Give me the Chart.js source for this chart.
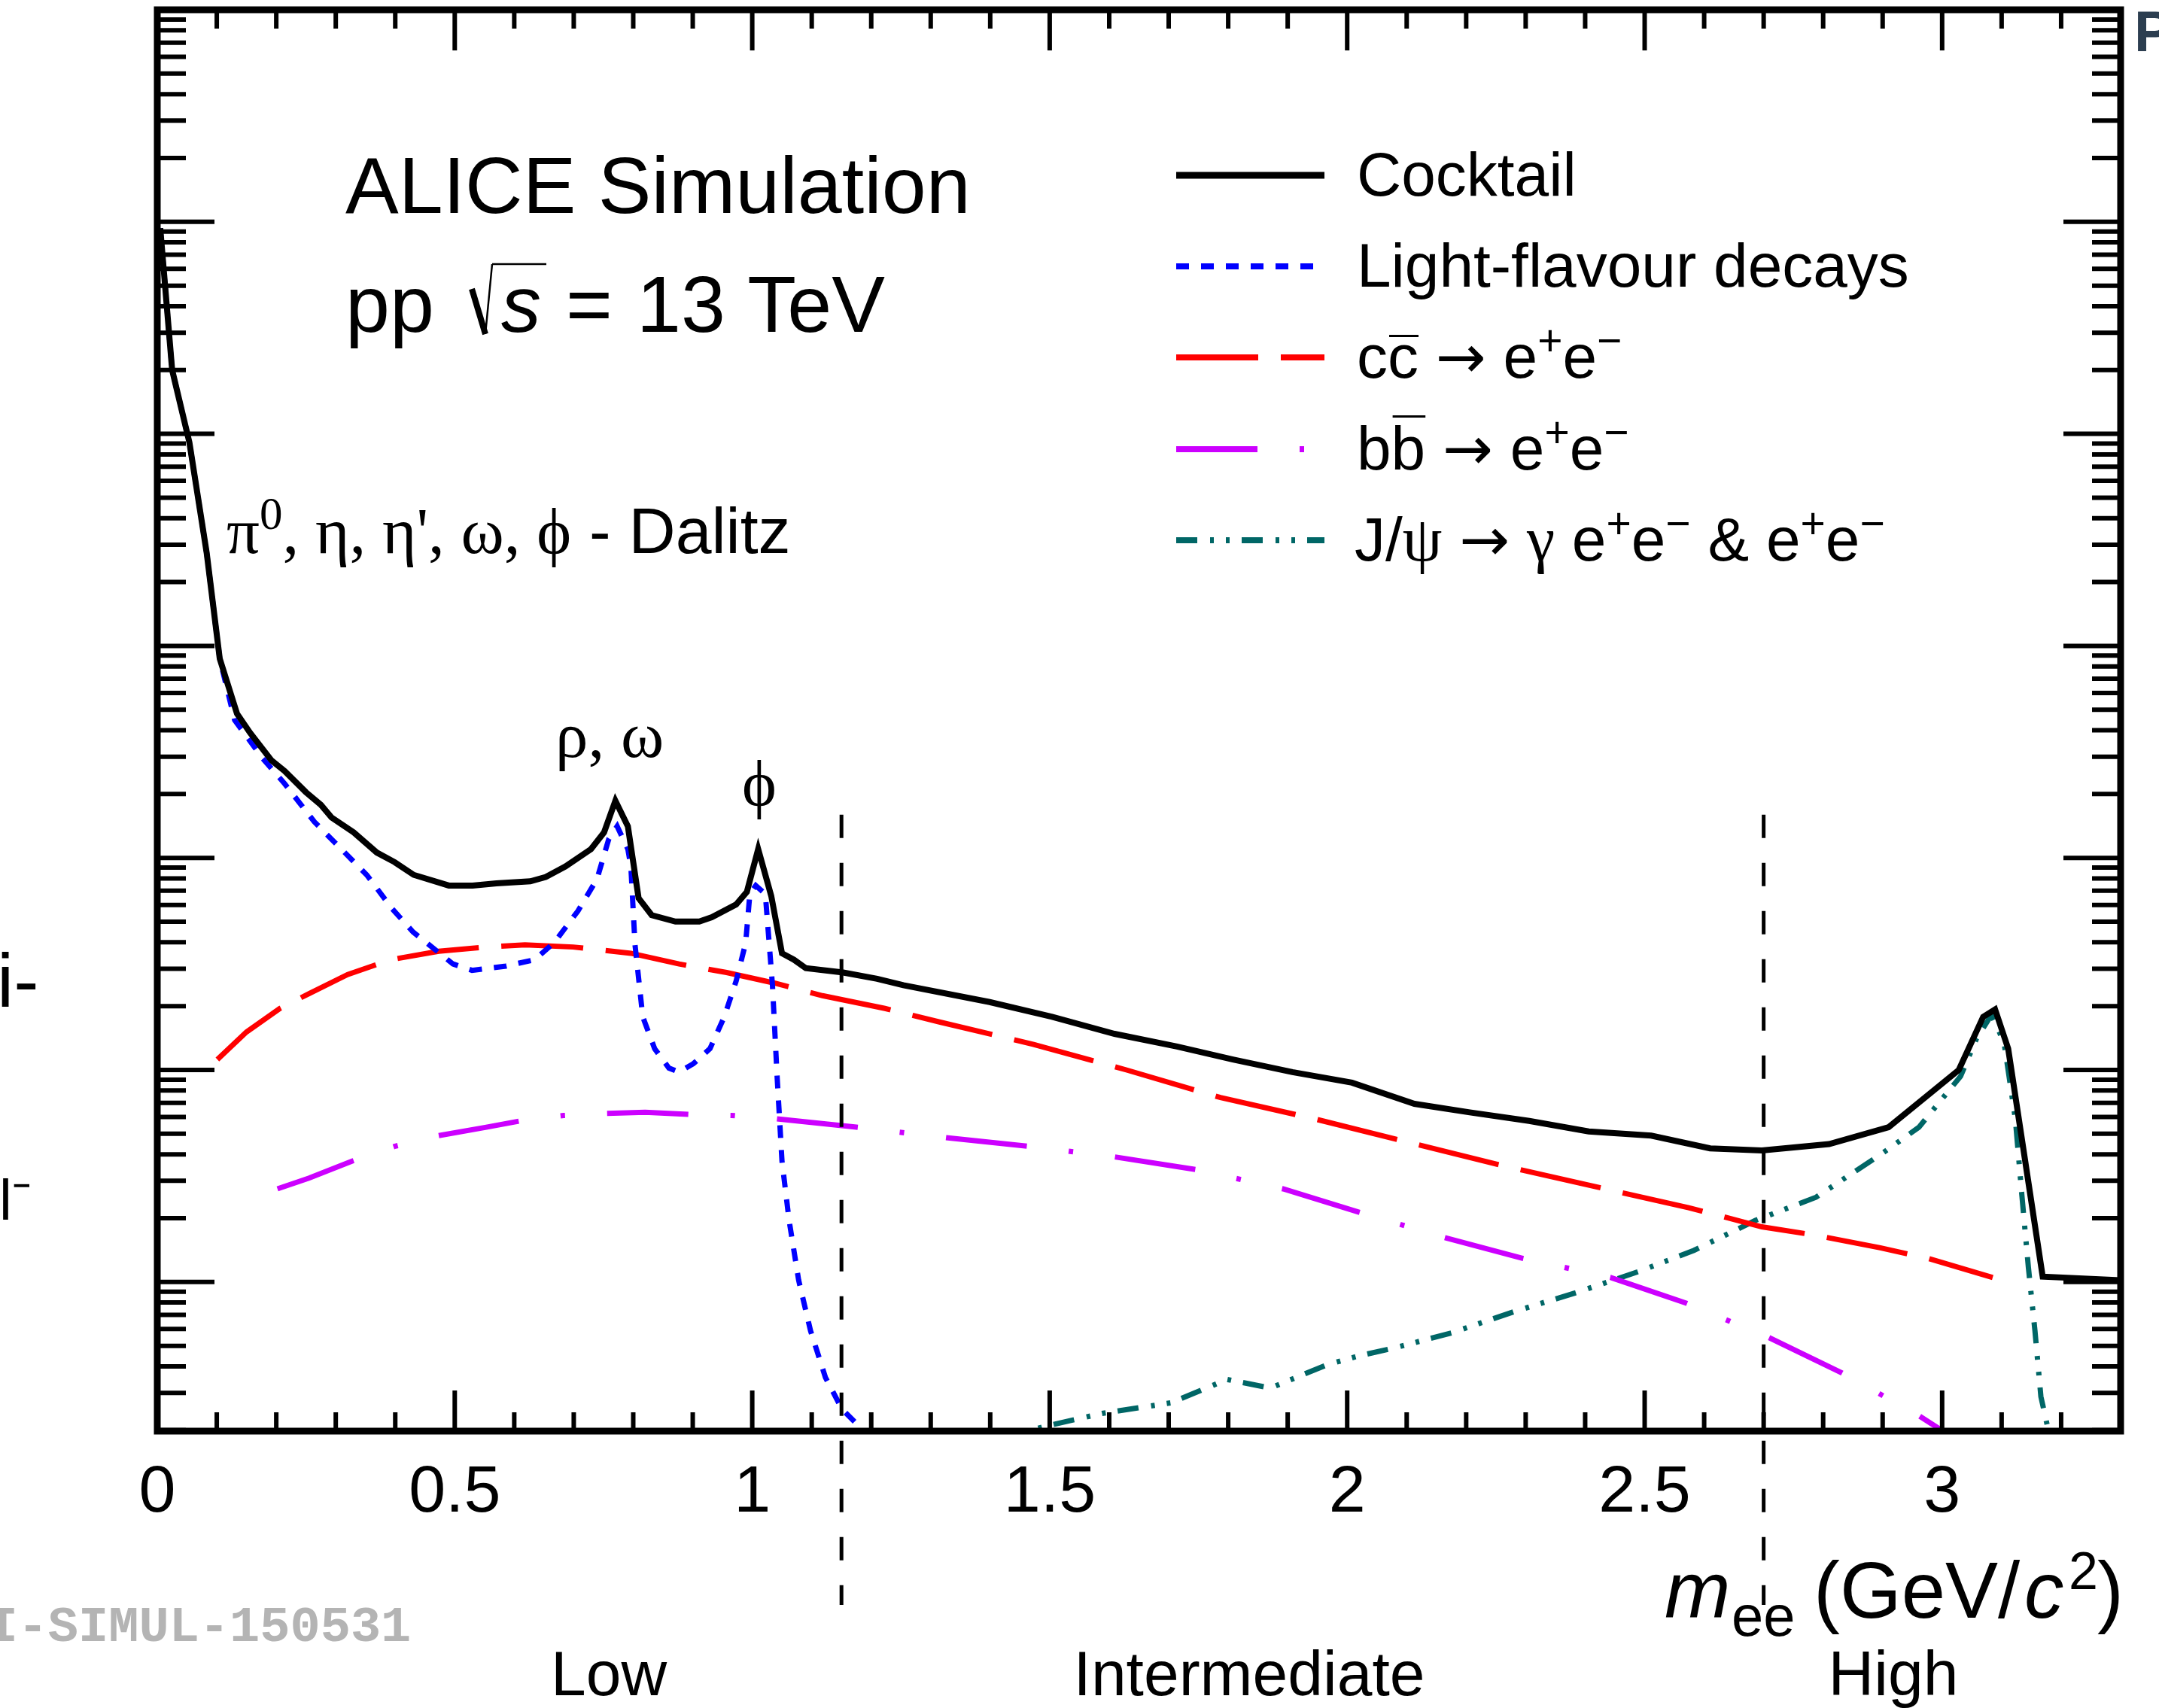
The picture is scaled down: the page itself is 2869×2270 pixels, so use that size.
<!DOCTYPE html>
<html>
<head>
<meta charset="utf-8">
<script src="https://cdn.jsdelivr.net/npm/chart.js@4.4.1/dist/chart.umd.min.js"></script>
<style>
  html, body { margin: 0; padding: 0; background: #fff; }
  canvas { display: block; }
</style>
</head>
<body>
<canvas id="cocktailChart" width="2869" height="2270"></canvas>
<script>
// invariant mass, GeV/c^2, and yield (arb. units)
const cocktailMass = [0.005, 0.025, 0.054, 0.083, 0.105, 0.134, 0.156, 0.192, 0.214, 0.25, 0.275, 0.293, 0.33, 0.369, 0.399, 0.431, 0.49, 0.53, 0.57, 0.627, 0.653, 0.686, 0.729, 0.751, 0.77, 0.791, 0.809, 0.831, 0.871, 0.911, 0.932, 0.973, 0.991, 1.01, 1.032, 1.05, 1.07, 1.09, 1.153, 1.21, 1.254, 1.399, 1.504, 1.609, 1.714, 1.808, 1.908, 2.008, 2.113, 2.206, 2.306, 2.406, 2.511, 2.61, 2.697, 2.81, 2.91, 3.028, 3.069, 3.089, 3.111, 3.169, 3.299];
const cocktailYield = [9.33e-2, 2.0e-2, 9.1e-3, 2.75e-3, 8.7e-4, 4.79e-4, 3.89e-4, 2.88e-4, 2.57e-4, 2.04e-4, 1.78e-4, 1.55e-4, 1.32e-4, 1.06e-4, 9.55e-5, 8.32e-5, 7.41e-5, 7.41e-5, 7.59e-5, 7.76e-5, 8.13e-5, 9.12e-5, 1.10e-4, 1.32e-4, 1.86e-4, 1.41e-4, 6.46e-5, 5.37e-5, 5.01e-5, 5.01e-5, 5.25e-5, 6.03e-5, 6.92e-5, 1.10e-4, 6.61e-5, 3.55e-5, 3.31e-5, 3.02e-5, 2.88e-5, 2.69e-5, 2.51e-5, 2.09e-5, 1.78e-5, 1.48e-5, 1.29e-5, 1.12e-5, 9.77e-6, 8.71e-6, 6.92e-6, 6.31e-6, 5.75e-6, 5.13e-6, 4.90e-6, 4.27e-6, 4.17e-6, 4.47e-6, 5.37e-6, 1.0e-5, 1.78e-5, 1.93e-5, 1.26e-5, 1.06e-6, 1.02e-6];

const lightMass = [0.005, 0.025, 0.054, 0.083, 0.105, 0.13, 0.177, 0.214, 0.264, 0.30, 0.352, 0.395, 0.43, 0.457, 0.497, 0.529, 0.586, 0.634, 0.667, 0.707, 0.739, 0.759, 0.773, 0.791, 0.796, 0.803, 0.816, 0.836, 0.86, 0.877, 0.901, 0.929, 0.953, 0.973, 0.989, 0.996, 1.006, 1.022, 1.034, 1.042, 1.05, 1.062, 1.078, 1.098, 1.123, 1.151, 1.183, 1.22];
const lightYield = [9.33e-2, 2.0e-2, 9.1e-3, 2.75e-3, 8.7e-4, 4.47e-4, 2.95e-4, 2.24e-4, 1.48e-4, 1.17e-4, 8.32e-5, 5.75e-5, 4.47e-5, 3.89e-5, 3.16e-5, 2.95e-5, 3.09e-5, 3.31e-5, 3.98e-5, 5.62e-5, 7.94e-5, 1.23e-4, 1.41e-4, 1.10e-4, 9.12e-5, 3.89e-5, 1.78e-5, 1.26e-5, 1.02e-5, 9.77e-6, 1.07e-5, 1.26e-5, 1.78e-5, 2.63e-5, 3.98e-5, 6.76e-5, 7.41e-5, 6.76e-5, 2.51e-5, 9.12e-6, 3.72e-6, 1.95e-6, 1.02e-6, 5.89e-7, 3.55e-7, 2.51e-7, 2.04e-7, 1.66e-7];

const charmMass = [0.101, 0.15, 0.206, 0.255, 0.32, 0.392, 0.473, 0.553, 0.618, 0.699, 0.796, 0.877, 0.957, 1.037, 1.118, 1.223, 1.316, 1.473, 1.629, 1.787, 1.944, 2.101, 2.259, 2.416, 2.574, 2.697, 2.788, 2.896, 2.977, 3.085];
const charmYield = [1.12e-5, 1.51e-5, 1.95e-5, 2.29e-5, 2.82e-5, 3.31e-5, 3.63e-5, 3.80e-5, 3.89e-5, 3.80e-5, 3.55e-5, 3.16e-5, 2.88e-5, 2.57e-5, 2.24e-5, 1.95e-5, 1.68e-5, 1.32e-5, 1.0e-5, 7.41e-6, 5.89e-6, 4.57e-6, 3.55e-6, 2.82e-6, 2.24e-6, 1.82e-6, 1.66e-6, 1.45e-6, 1.29e-6, 1.05e-6];

const beautyMass = [0.202, 0.255, 0.328, 0.40, 0.473, 0.553, 0.61, 0.683, 0.755, 0.82, 0.893, 0.965, 1.04, 1.175, 1.326, 1.462, 1.609, 1.746, 1.892, 2.018, 2.164, 2.296, 2.443, 2.57, 2.707, 2.832, 2.961, 2.994, 3.02];
const beautyYield = [2.75e-6, 3.09e-6, 3.72e-6, 4.37e-6, 4.90e-6, 5.37e-6, 5.75e-6, 6.10e-6, 6.24e-6, 6.31e-6, 6.17e-6, 6.10e-6, 5.89e-6, 5.37e-6, 4.79e-6, 4.37e-6, 3.89e-6, 3.39e-6, 2.75e-6, 2.14e-6, 1.62e-6, 1.29e-6, 1.05e-6, 7.94e-7, 5.50e-7, 3.72e-7, 2.34e-7, 2.04e-7, 1.74e-7];

const jpsiMass = [1.40, 1.494, 1.588, 1.703, 1.798, 1.871, 1.966, 2.018, 2.081, 2.175, 2.28, 2.385, 2.49, 2.583, 2.686, 2.788, 2.896, 2.961, 3.031, 3.058, 3.083, 3.104, 3.123, 3.134, 3.145, 3.156, 3.166, 3.177, 3.185];
const jpsiYield = [1.78e-7, 2.09e-7, 2.40e-7, 2.69e-7, 3.47e-7, 3.16e-7, 4.07e-7, 4.47e-7, 4.90e-7, 5.75e-7, 7.24e-7, 8.91e-7, 1.12e-6, 1.41e-6, 1.95e-6, 2.51e-6, 3.98e-6, 5.37e-6, 9.33e-6, 1.41e-5, 1.82e-5, 1.35e-5, 5.89e-6, 2.57e-6, 1.17e-6, 5.89e-7, 2.88e-7, 2.09e-7, 1.58e-7];

// axes
const xLabelTicks = [0, 0.5, 1, 1.5, 2, 2.5, 3];
const xMinorTicks = [0.1, 0.2, 0.3, 0.4, 0.6, 0.7, 0.8, 0.9, 1.1, 1.2, 1.3, 1.4, 1.6, 1.7, 1.8, 1.9, 2.1, 2.2, 2.3, 2.4, 2.6, 2.7, 2.8, 2.9, 3.1, 3.2];
const yDecades = [1e-7, 1e-6, 1e-5, 1e-4, 1e-3, 1e-2, 1e-1, 1];
const yMinorSteps = [2, 3, 4, 5, 6, 7, 8, 9];
const regionEdges = [1.15, 2.7]; // low | intermediate | high
const regionLineTop = 1.6e-4;
const regionLineBottom = 3e-8;

const SANS = '"Liberation Sans", Arial, Helvetica, sans-serif';
const SERIF = '"Liberation Serif", "Times New Roman", serif';
const ARROW = '"DejaVu Sans", sans-serif';

function points(xs, ys) {
    return xs.map(function(x, i){ return {x: x, y: ys[i]}; });
}

function series(label, xs, ys, color, width, dash) {
    return {
        label: label,
        data: points(xs, ys),
        borderColor: color,
        borderWidth: width,
        borderDash: dash,
        borderCapStyle: 'butt',
        pointRadius: 0,
        fill: false,
        tension: 0
    };
}

const datasets = [
    series('Cocktail', cocktailMass, cocktailYield, '#000000', 8, []),
    series('Light-flavour decays', lightMass, lightYield, '#0000ff', 7, [17, 16]),
    series('cc', charmMass, charmYield, '#ff0000', 7, [109, 30]),
    series('bb', beautyMass, beautyYield, '#cc00ff', 7, [108, 56, 6, 56]),
    series('J/psi', jpsiMass, jpsiYield, '#006666', 7, [28, 17, 5, 16, 5, 16])
];

// text made of pieces: [text, font, dy, overline]
function runs(ctx, x, y, list) {
    list.forEach(function(r){
        ctx.font = r[1];
        ctx.fillText(r[0], x, y + (r[2] || 0));
        let w = ctx.measureText(r[0]).width;
        if (r[3]) {
            ctx.fillRect(x + 2, y - r[3], w - 2, 3);
        }
        x += w;
    });
    return x;
}

function line(ctx, x1, y1, x2, y2) {
    ctx.beginPath();
    ctx.moveTo(x1, y1);
    ctx.lineTo(x2, y2);
    ctx.stroke();
}

const decorations = {
    id: 'decorations',
    afterDraw(chart) {
        const ctx = chart.ctx;
        const a = chart.chartArea;
        const xs = chart.scales.x;
        const ys = chart.scales.y;
        ctx.save();

        // region boundaries
        ctx.strokeStyle = '#000';
        ctx.lineWidth = 5;
        ctx.setLineDash([31, 33]);
        regionEdges.forEach(function(m){
            let px = xs.getPixelForValue(m);
            line(ctx, px, ys.getPixelForValue(regionLineTop), px, ys.getPixelForValue(regionLineBottom));
        });
        ctx.setLineDash([]);

        // ticks inside the frame
        ctx.lineWidth = 6;
        ctx.lineCap = 'butt';
        xLabelTicks.concat(xMinorTicks).forEach(function(v){
            let px = xs.getPixelForValue(v);
            let len = xLabelTicks.indexOf(v) >= 0 ? 54 : 25;
            line(ctx, px, a.bottom, px, a.bottom - len);
            line(ctx, px, a.top, px, a.top + len);
        });
        yDecades.forEach(function(d){
            let all = [[d, 76]];
            yMinorSteps.forEach(function(m){ all.push([m * d, 38]); });
            all.forEach(function(t){
                if (t[0] < ys.min || t[0] > ys.max * 1.001) return;
                let py = ys.getPixelForValue(t[0]);
                line(ctx, a.left, py, a.left + t[1], py);
                line(ctx, a.right, py, a.right - t[1], py);
            });
        });

        // frame
        ctx.lineWidth = 9;
        ctx.strokeRect(a.left, a.top, a.right - a.left, a.bottom - a.top);

        // legend
        const rows = [233, 354, 475, 597, 718];
        datasets.forEach(function(ds, i){
            ctx.strokeStyle = ds.borderColor;
            ctx.lineWidth = ds.borderWidth + 1;
            ctx.setLineDash(ds.borderDash);
            line(ctx, 1563, rows[i], 1760, rows[i]);
        });
        ctx.setLineDash([]);
        ctx.strokeStyle = '#000';
        ctx.fillStyle = '#000';
        ctx.textAlign = 'left';
        ctx.textBaseline = 'alphabetic';
        const F = '82px ' + SANS;
        const SUP = '57px ' + SANS;
        const GR = '84px ' + SERIF;
        const AR = '80px ' + ARROW;
        runs(ctx, 1803, rows[0] + 27, [['Cocktail', F]]);
        runs(ctx, 1803, rows[1] + 27, [['Light-flavour decays', F]]);
        runs(ctx, 1803, rows[2] + 27, [['c', F], ['c', F, 0, 57], [' ', F], ['\u2192', AR], [' ', F], ['e', F], ['+', SUP, -30], ['e', F], ['\u2212', SUP, -30]]);
        runs(ctx, 1803, rows[3] + 27, [['b', F], ['b', F, 0, 72], [' ', F], ['\u2192', AR], [' ', F], ['e', F], ['+', SUP, -30], ['e', F], ['\u2212', SUP, -30]]);
        runs(ctx, 1800, rows[4] + 27, [['J/', F], ['\u03c8', GR], [' ', F], ['\u2192', AR], [' ', F], ['\u03b3', GR], [' e', F], ['+', SUP, -30], ['e', F], ['\u2212', SUP, -30],
            [' & e', F], ['+', SUP, -30], ['e', F], ['\u2212', SUP, -30]]);

        // system label
        ctx.font = '106px ' + SANS;
        ctx.fillText('ALICE Simulation', 459, 283);
        ctx.fillText('pp', 459, 441);
        ctx.lineWidth = 8;
        line(ctx, 627, 384, 645, 444);
        ctx.lineWidth = 2.5;
        line(ctx, 645, 444, 654, 351);
        line(ctx, 654, 351, 726, 351);
        ctx.font = 'italic 106px ' + SANS;
        ctx.fillText('s', 666, 441);
        ctx.font = '106px ' + SANS;
        ctx.fillText('=', 752, 441);
        ctx.fillText('13 TeV', 846, 441);

        // resonance labels
        const G = '87px ' + SERIF;
        runs(ctx, 301, 735, [['\u03c0', G], ['0', '61px ' + SERIF, -32], [', \u03b7, \u03b7\', \u03c9, \u03d5', G], [' - Dalitz', '86px ' + SANS]]);
        runs(ctx, 738, 1006, [['\u03c1, \u03c9', G]]);
        ctx.textAlign = 'center';
        ctx.fillText('\u03d5', 1009, 1070);

        // axis title
        ctx.textAlign = 'left';
        ctx.font = 'italic 105px ' + SANS;
        ctx.fillText('m', 2212, 2150);
        ctx.font = '76px ' + SANS;
        ctx.fillText('ee', 2301, 2174);
        ctx.font = '105px ' + SANS;
        ctx.fillText('(GeV/', 2410, 2150);
        ctx.font = 'italic 105px ' + SANS;
        ctx.fillText('c', 2690, 2150);
        ctx.font = '70px ' + SANS;
        ctx.fillText('2', 2749, 2112);
        ctx.font = '105px ' + SANS;
        ctx.fillText(')', 2787, 2150);

        // mass regions
        ctx.textAlign = 'center';
        ctx.font = '84px ' + SANS;
        ctx.fillText('Low', 809, 2253);
        ctx.fillText('Intermediate', 1660, 2253);
        ctx.fillText('High', 2516, 2253);

        // figure id and clipped fragments at the edges
        ctx.textAlign = 'left';
        ctx.fillStyle = '#b4b4b4';
        ctx.font = 'bold 67px "Liberation Mono", "DejaVu Sans Mono", monospace';
        ctx.fillText('ALI-SIMUL-150531', -97, 2181);
        ctx.fillStyle = '#000';
        ctx.font = '100px ' + SANS;
        ctx.fillText('i-', -4, 1338);
        ctx.font = '76px ' + SANS;
        ctx.fillText('l\u207b', -1, 1621);
        ctx.fillStyle = '#2c3e50';
        ctx.font = 'bold 76px ' + SANS;
        ctx.fillText('P', 2836, 68);
        ctx.restore();
    }
};

const config = {
    type: 'line',
    data: { datasets: datasets },
    options: {
        responsive: false,
        animation: false,
        devicePixelRatio: 1,
        layout: { padding: { left: 209, right: 51, top: 13, bottom: 0 } },
        plugins: { legend: { display: false }, tooltip: { enabled: false } },
        scales: {
            x: {
                type: 'linear',
                min: 0,
                max: 3.3,
                afterBuildTicks: function(scale){
                    scale.ticks = xLabelTicks.map(function(v){ return {value: v}; });
                },
                afterFit: function(scale){ scale.height = 368; },
                grid: { display: false },
                border: { display: false },
                ticks: {
                    autoSkip: false,
                    maxRotation: 0,
                    padding: 22,
                    color: '#000',
                    font: { family: SANS, size: 88 },
                    callback: function(value){ return String(value); }
                }
            },
            y: {
                type: 'logarithmic',
                min: 1.98e-7,
                max: 1.0,
                display: false
            }
        }
    },
    plugins: [decorations]
};

const cocktailChart = new Chart(document.getElementById('cocktailChart'), config);
</script>
</body>
</html>
